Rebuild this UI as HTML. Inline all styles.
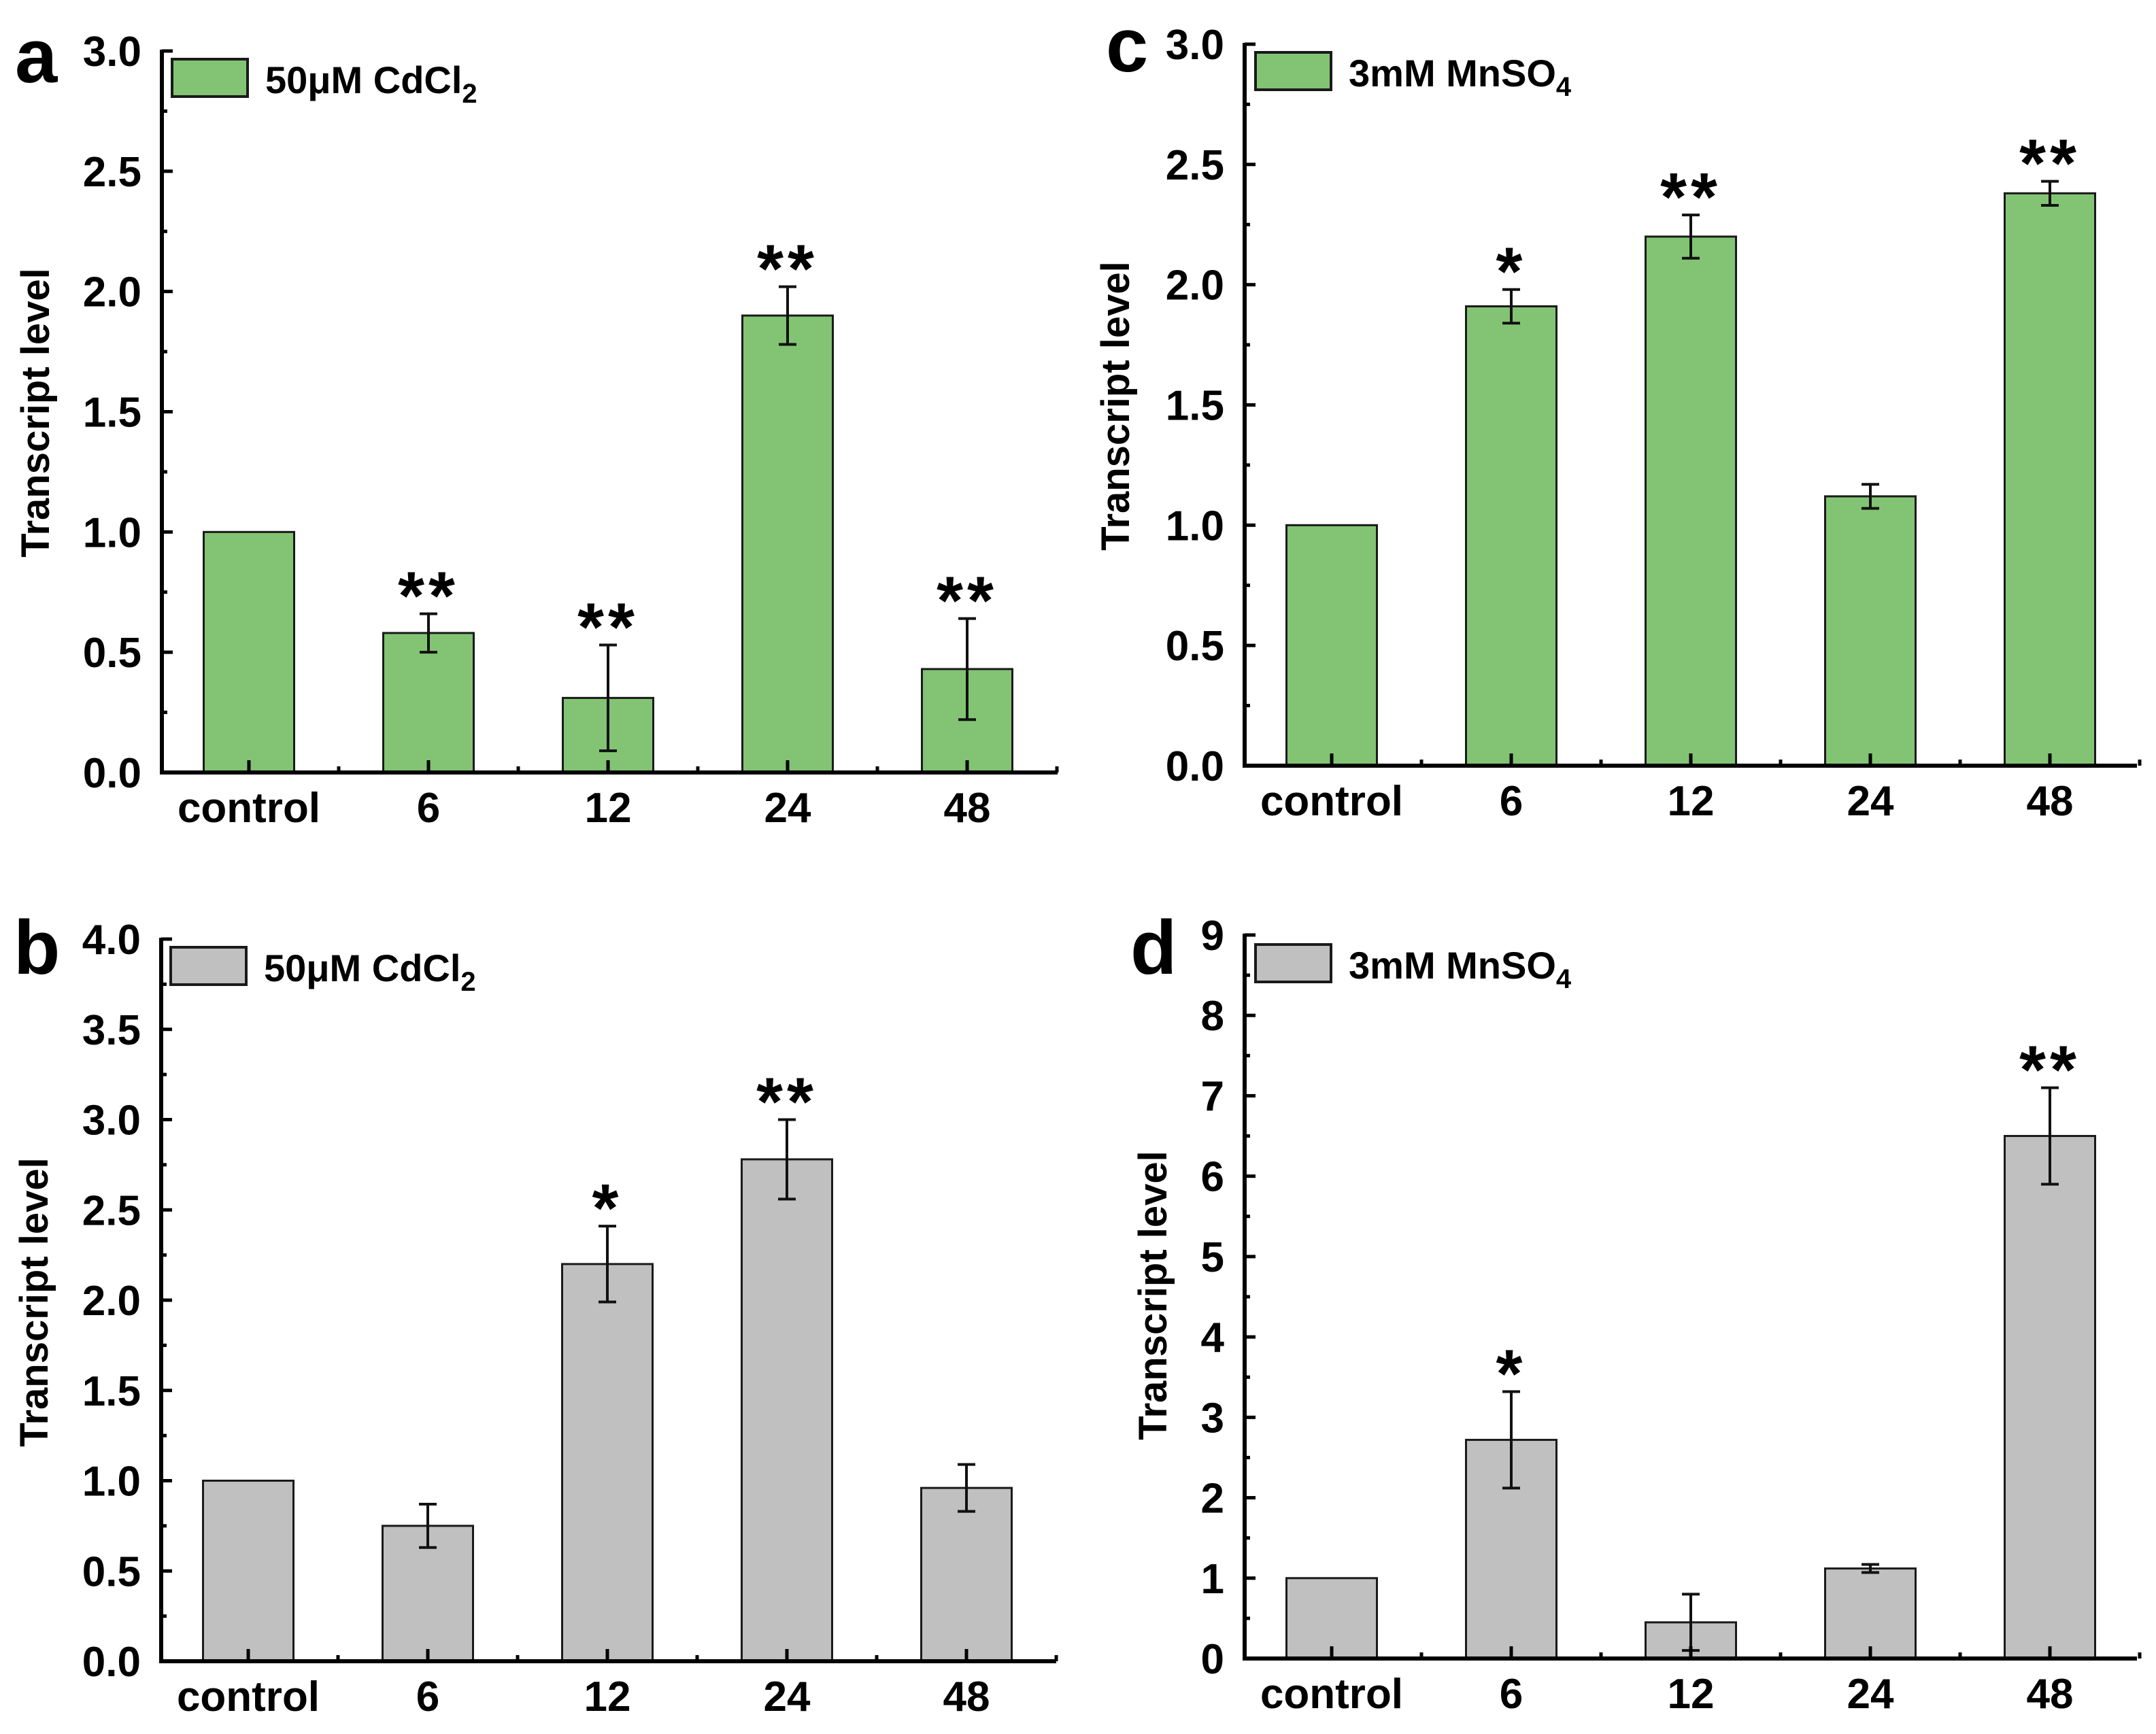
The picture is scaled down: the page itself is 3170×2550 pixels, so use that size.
<!DOCTYPE html>
<html><head><meta charset="utf-8">
<style>
html,body{margin:0;padding:0;background:#fff;}
svg{display:block;font-family:"Liberation Sans Narrow","Liberation Sans",sans-serif;font-weight:bold;}
</style></head>
<body>
<svg id="fig" width="3170" height="2550" viewBox="0 0 3170 2550" xmlns="http://www.w3.org/2000/svg"></svg>
<script>
const categories = ["control","6","12","24","48"];
const valuesA = [1.0, 0.58, 0.31, 1.90, 0.43];
const errorsA = [0, 0.08, 0.22, 0.12, 0.21];
const sigA = ["", "**", "**", "**", "**"];
const ticksA = ["0.0","0.5","1.0","1.5","2.0","2.5","3.0"];
const valuesB = [1.0, 0.75, 2.20, 2.78, 0.96];
const errorsB = [0, 0.12, 0.21, 0.22, 0.13];
const sigB = ["", "", "*", "**", ""];
const ticksB = ["0.0","0.5","1.0","1.5","2.0","2.5","3.0","3.5","4.0"];
const valuesC = [1.0, 1.91, 2.20, 1.12, 2.38];
const errorsC = [0, 0.07, 0.09, 0.05, 0.05];
const sigC = ["", "*", "**", "", "**"];
const ticksC = ["0.0","0.5","1.0","1.5","2.0","2.5","3.0"];
const valuesD = [1.0, 2.72, 0.45, 1.12, 6.50];
const errorsD = [0, 0.60, 0.35, 0.05, 0.60];
const sigD = ["", "*", "", "", "**"];
const ticksD = ["0","1","2","3","4","5","6","7","8","9"];

const NS = "http://www.w3.org/2000/svg";
const svg = document.getElementById("fig");
function mk(tag, attrs, parent){
  const e = document.createElementNS(NS, tag);
  for (const k in attrs) e.setAttribute(k, attrs[k]);
  (parent||svg).appendChild(e);
  return e;
}

const panels = [
  {id:"a", vals:valuesA, errs:errorsA, sig:sigA, ticks:ticksA, max:3, step:0.5,
   ax:238, top:75, bot:1136, right:1555, fill:"#82c473", legend:"50μM CdCl", sub:"2",
   letterX:22, letterY:121, titleX:52, titleY:607, lx:253, ly:87},
  {id:"b", vals:valuesB, errs:errorsB, sig:sigB, ticks:ticksB, max:4, step:0.5,
   ax:237, top:1381, bot:2443, right:1553, fill:"#c0c0c0", legend:"50μM CdCl", sub:"2",
   letterX:20, letterY:1432, titleX:50, titleY:1915, lx:251, ly:1393},
  {id:"c", vals:valuesC, errs:errorsC, sig:sigC, ticks:ticksC, max:3, step:0.5,
   ax:1830, top:65, bot:1126, right:3142, fill:"#82c473", legend:"3mM MnSO", sub:"4",
   letterX:1626, letterY:105, titleX:1640, titleY:597, lx:1846, ly:77},
  {id:"d", vals:valuesD, errs:errorsD, sig:sigD, ticks:ticksD, max:9, step:1,
   ax:1830, top:1375, bot:2439, right:3142, fill:"#c0c0c0", legend:"3mM MnSO", sub:"4",
   letterX:1662, letterY:1432, titleX:1695, titleY:1905, lx:1846, ly:1389}
];

panels.forEach(p => {
  const g = mk("g", {});
  
  
  const y = v => p.bot - (v / p.max) * (p.bot - p.top);
  const catW = 264;
  const cx = i => p.ax + 128 + catW * i;
  const barW = 133;

  p.vals.forEach((v, i) => {
    const r = mk("rect", {x: cx(i) - barW/2, y: y(v), width: barW, height: p.bot - y(v), fill: p.fill, stroke: "#1a1a1a", "stroke-width": 3}, g);
    
    
    const e = p.errs[i];
    if (e > 0) {
      const eg = mk("g", {stroke: "#111", "stroke-width": 4}, g);
      
      
      mk("line", {x1: cx(i), x2: cx(i), y1: y(v + e), y2: y(v - e)}, eg);
      mk("line", {x1: cx(i) - 13, x2: cx(i) + 13, y1: y(v + e), y2: y(v + e)}, eg);
      mk("line", {x1: cx(i) - 13, x2: cx(i) + 13, y1: y(v - e), y2: y(v - e)}, eg);
    }
    if (p.sig[i]) {
      const t = mk("text", {x: cx(i), y: y(v + e) + 8, "text-anchor": "middle", "font-size": 100, "letter-spacing": 6, "font-family": "Liberation Sans, sans-serif"}, g);
      t.textContent = p.sig[i];
      
      
    }
    const lab = mk("text", {x: cx(i), y: p.bot + 73, "text-anchor": "middle", "font-size": 62, "font-family": "Liberation Sans, sans-serif"}, g);
    lab.textContent = categories[i];
    
    
    mk("line", {x1: cx(i), x2: cx(i), y1: p.bot, y2: p.bot - 18, stroke: "#000", "stroke-width": 5}, g);
    mk("line", {x1: cx(i) + catW/2, x2: cx(i) + catW/2, y1: p.bot, y2: p.bot - 9, stroke: "#000", "stroke-width": 5}, g);
  });

  const yaxis = mk("line", {x1: p.ax, x2: p.ax, y1: p.top - 2, y2: p.bot + 3, stroke: "#000", "stroke-width": 6}, g);
  
  
  const xaxis = mk("line", {x1: p.ax - 3, x2: p.right, y1: p.bot, y2: p.bot, stroke: "#000", "stroke-width": 6}, g);
  
  

  p.ticks.forEach((tl, k) => {
    const v = k * p.step;
    const ty = y(v);
    mk("line", {x1: p.ax, x2: p.ax + 16, y1: ty, y2: ty, stroke: "#000", "stroke-width": 5}, g);
    if (k < p.ticks.length - 1) {
      const my = y(v + p.step / 2);
      mk("line", {x1: p.ax, x2: p.ax + 8, y1: my, y2: my, stroke: "#000", "stroke-width": 5}, g);
    }
    const t = mk("text", {x: p.ax - 30, y: ty + 22, "text-anchor": "end", "font-size": 62}, g);
    t.textContent = tl;
    
    
  });

  const yt = mk("text", {x: p.titleX, y: p.titleY, "text-anchor": "middle", "font-size": 58, "font-family": "Liberation Sans, sans-serif", transform: "rotate(-90 " + p.titleX + " " + p.titleY + ")", dy: 20}, g);
  yt.textContent = "Transcript level";
  
  

  const pl = mk("text", {x: p.letterX, y: p.letterY, "font-size": 112, "font-family": "Liberation Sans, sans-serif"}, g);
  pl.textContent = p.id;
  
  

  const lg = mk("g", {}, g);
  
  
  mk("rect", {x: p.lx, y: p.ly, width: 111, height: 55, fill: p.fill, stroke: "#1a1a1a", "stroke-width": 4}, lg);
  const lt = mk("text", {x: p.lx + 137, y: p.ly + 50, "font-size": 56}, lg);
  lt.textContent = p.legend;
  const ts = mk("tspan", {"font-size": 40, dy: 14}, lt);
  ts.textContent = p.sub;
  
  
});
</script>
</body></html>
